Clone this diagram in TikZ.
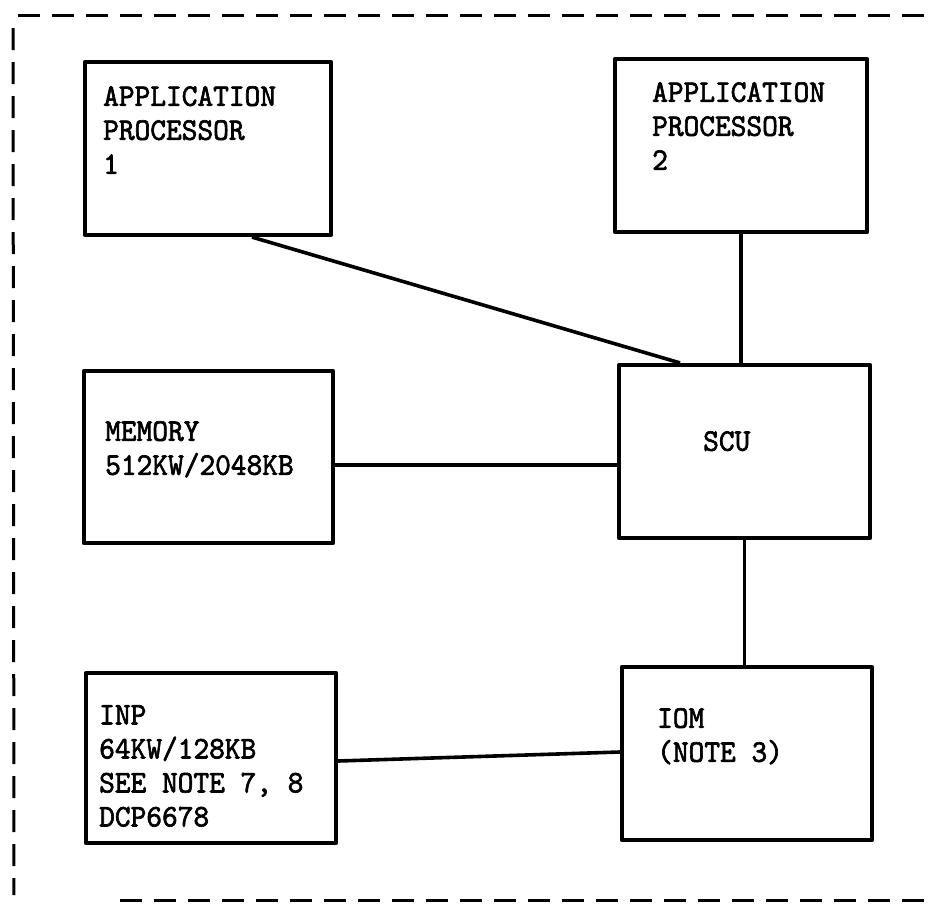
\documentclass[tikz,border=0pt]{standalone}
\usepackage{fontspec}
\newfontfamily\typew{lmmono10-regular}[Extension=.otf,FakeBold=2,FakeStretch=0.95]
\begin{document}
\begin{tikzpicture}[x=1pt,y=-1pt,
  box/.style={draw=black,line width=4.2pt,rectangle,inner sep=0pt,line join=round},
  wire/.style={draw=black,line width=3.6pt},
  frame/.style={draw=black,line width=3pt,dash pattern=on 22pt off 12pt},
  lbl/.style={anchor=north west,inner sep=0pt,align=left,font=\typew\fontsize{31.5}{34}\selectfont}]
\useasboundingbox (0,0) rectangle (935,906);
% dashed frame
\draw[frame] (18,15) -- (935,15);
\draw[frame] (13,28) -- (14,895);
\draw[frame] (120,900) -- (935,900);
% boxes
\node[box,minimum width=246pt,minimum height=173pt] (ap1) at (208,148.5) {};
\node[box,minimum width=252pt,minimum height=173pt] (ap2) at (741,145.5) {};
\node[box,minimum width=249pt,minimum height=172pt] (mem) at (208.5,457) {};
\node[box,minimum width=251pt,minimum height=173pt] (scu) at (744.5,451.5) {};
\node[box,minimum width=250pt,minimum height=170pt] (inp) at (211,758) {};
\node[box,minimum width=250pt,minimum height=173pt] (iom) at (747,753.5) {};
% labels
\node[lbl] (t1) at (103,86) {APPLICATION\\PROCESSOR\\1};
\node[lbl] (t2) at (652,82) {APPLICATION\\PROCESSOR\\2};
\node[lbl] (t3) at (105,421) {MEMORY\\512KW/2048KB};
\node[lbl] (t4) at (703,431) {SCU};
\node[lbl] (t5) at (99,705) {INP\\64KW/128KB\\SEE NOTE 7, 8\\DCP6678};
\node[lbl] (t6) at (657,708) {IOM\\(NOTE 3)};
% connectors
\draw[wire] ([xshift=44pt]ap1.south) -- ([xshift=-64.5pt]scu.north);
\draw[wire] (ap2.south) -- (ap2.south |- scu.north);
\draw[wire] ([yshift=-8pt]mem.east) -- ([yshift=-13.5pt]scu.west);
\draw[wire] (scu.south) -- (scu.south |- iom.north);
\draw[wire] ([yshift=-3pt]inp.east) -- ([yshift=1.5pt]iom.west);
\end{tikzpicture}
\end{document}
